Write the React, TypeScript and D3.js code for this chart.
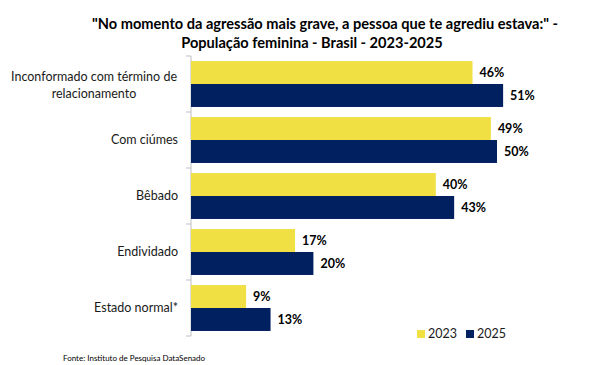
import React from 'react'
import * as d3 from 'd3'

const categories = [
  ['Inconformado com término de', 'relacionamento'],
  ['Com ciúmes'],
  ['Bêbado'],
  ['Endividado'],
  ['Estado normal*'],
]
const years = ['2023', '2025']
const values2023 = [46, 49, 40, 17, 9]
const values2025 = [51, 50, 43, 20, 13]
const colors = ['#F0E044', '#002060']

const W = 590
const H = 365
const font = 'Lato, "Open Sans", sans-serif'

export default function App() {
  const keys = categories.map((c) => c.join(' '))
  const y = d3.scaleBand().domain(keys).range([56, 336]).paddingInner(0.18).paddingOuter(0.09)
  const y1 = d3.scaleBand().domain(years).range([0, y.bandwidth()])
  const x = d3.scaleLinear().domain([0, 50]).range([191, 497])
  const series = [values2023, values2025]

  return (
    <svg width={W} height={H} style={{ position: 'absolute', left: 0, top: 0, background: '#fff' }} fontFamily={font}>
      <text x={325} y={29} textAnchor="middle" fontSize={14.6} fontWeight="bold" fill="#000">
        "No momento da agressão mais grave, a pessoa que te agrediu estava:" -
      </text>
      <text x={312} y={48} textAnchor="middle" fontSize={14.6} fontWeight="bold" fill="#000">
        População feminina - Brasil - 2023-2025
      </text>

      {/* axis */}
      <line x1={x(0)} x2={x(0)} y1={56} y2={336} stroke="#bfbfbf" />
      {d3.range(categories.length + 1).map((i) => {
        const yy = 56 + i * y.step()
        return <line key={i} x1={x(0) - 5} x2={x(0)} y1={yy} y2={yy} stroke="#bfbfbf" />
      })}

      {categories.map((lines, i) => {
        const cy = (y(keys[i]) || 0) + y.bandwidth() / 2
        if (lines.length === 1) {
          return (
            <text key={i} x={178} y={cy} dy="0.35em" textAnchor="end" fontSize={12.5} fill="#1a1a1a">
              {lines[0]}
            </text>
          )
        }
        return (
          <text key={i} x={94} y={cy} textAnchor="middle" fontSize={12.5} fill="#1a1a1a">
            <tspan x={94} dy="-0.25em">{lines[0]}</tspan>
            <tspan x={94} dy="1.35em">{lines[1]}</tspan>
          </text>
        )
      })}

      {keys.map((k, i) => (
        <g key={k} transform={`translate(0,${y(k)})`}>
          {years.map((yr, j) => {
            const v = series[j][i]
            const by = y1(yr) || 0
            return (
              <g key={yr}>
                <rect x={x(0)} y={by} width={x(v) - x(0)} height={y1.bandwidth()} fill={colors[j]} />
                <text x={x(v) + 7} y={by + y1.bandwidth() / 2} dy="0.35em" fontSize={12.5} fontWeight="bold" fill="#000">
                  {v}%
                </text>
              </g>
            )
          })}
        </g>
      ))}

      {/* legend */}
      {years.map((yr, j) => (
        <g key={yr} transform={`translate(${417 + j * 49},334)`}>
          <rect x={0} y={-4} width={8} height={8} fill={colors[j]} />
          <text x={11} y={0} dy="0.35em" fontSize={12.5} fill="#1a1a1a">{yr}</text>
        </g>
      ))}

      <text x={63} y={361} fontSize={8} fill="#000">Fonte: Instituto de Pesquisa DataSenado</text>
    </svg>
  )
}
